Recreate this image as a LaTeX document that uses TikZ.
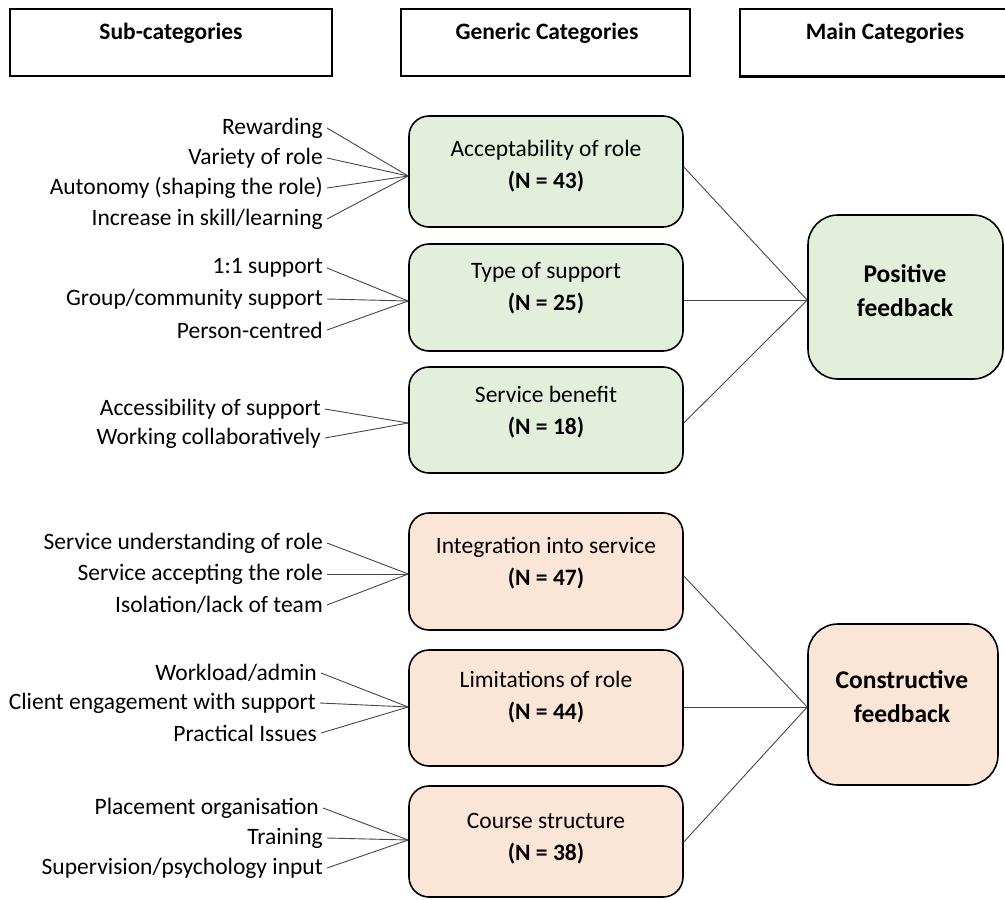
\documentclass[tikz,border=0pt]{standalone}
\usepackage{fontspec}
\setmainfont{Carlito}
\usetikzlibrary{calc}
\definecolor{posfill}{RGB}{226,239,218}
\definecolor{negfill}{RGB}{251,229,214}
\definecolor{linkgray}{RGB}{70,70,70}
\begin{document}
\begin{tikzpicture}[x=1pt,y=-1pt,
  headbox/.style={draw, line width=2.6pt, minimum width=#1, minimum height=67, inner sep=0},
  headline/.style={draw, line width=2.6pt},
  headtext/.style={font=\fontsize{23.5}{28}\selectfont\bfseries, inner sep=0},
  catbox/.style={draw, line width=1.6pt, rounded corners=20, minimum width=274, inner sep=0},
  cattext/.style={font=\fontsize{23.5}{32}\selectfont, align=center, inner sep=0},
  mainbox/.style={draw, line width=1.6pt, rounded corners=30, inner sep=0},
  maintext/.style={font=\fontsize{25.5}{34}\selectfont\bfseries, align=center, inner sep=0},
  sub/.style={font=\fontsize{23.5}{28}\selectfont, anchor=east, inner sep=4},
  link/.style={draw=linkgray, line width=0.9pt}]
\useasboundingbox (0,0) rectangle (1005,900);

% column headers
\node[headbox=322] (h1) at (171,42.5) {};
\node[headtext] (h1t) at (171,33) {Sub-categories};
\node[headbox=289] (h2) at (545.5,42.5) {};
\node[headtext] (h2t) at (547,33) {Generic Categories};
\node[minimum width=290, minimum height=67, inner sep=0] (h3) at (885,42.5) {};
\draw[headline] ($(h3.north west)+(266,0)$) -- (h3.north west) -- (h3.south west) -- ($(h3.south west)+(266,0)$);
\node[headtext] (h3t) at (885,33) {Main Categories};

% generic categories: positive
\node[catbox, fill=posfill, minimum height=111] (g1) at (546,171.5) {};
\node[cattext] (g1t) at ($(g1.north)+(0,50.5)$) {Acceptability of role\\\textbf{(N = 43)}};
\node[catbox, fill=posfill, minimum height=107] (g2) at (546,297.5) {};
\node[cattext] (g2t) at ($(g2.north)+(0,45.5)$) {Type of support\\\textbf{(N = 25)}};
\node[catbox, fill=posfill, minimum height=106] (g3) at (546,420) {};
\node[cattext] (g3t) at ($(g3.north)+(0,46)$) {Service benefit\\\textbf{(N = 18)}};

% generic categories: constructive
\node[catbox, fill=negfill, minimum height=117] (g4) at (546,571.5) {};
\node[cattext] (g4t) at ($(g4.north)+(0,51)$) {Integration into service\\\textbf{(N = 47)}};
\node[catbox, fill=negfill, minimum height=116] (g5) at (546,708) {};
\node[cattext] (g5t) at ($(g5.north)+(0,48)$) {Limitations of role\\\textbf{(N = 44)}};
\node[catbox, fill=negfill, minimum height=111] (g6) at (546,841.5) {};
\node[cattext] (g6t) at ($(g6.north)+(0,53)$) {Course structure\\\textbf{(N = 38)}};

% main categories
\node[mainbox, fill=posfill, minimum width=195, minimum height=164] (mp) at (905.5,297) {};
\node[maintext] (mpt) at (905,291) {Positive\\feedback};
\node[mainbox, fill=negfill, minimum width=190, minimum height=161] (mc) at (903,704.5) {};
\node[maintext] (mct) at (902,697) {Constructive\\feedback};

% sub-categories
\node[sub] (s11) at (327,128) {Rewarding};
\node[sub] (s12) at (327,158) {Variety of role};
\node[sub] (s13) at (327,188) {Autonomy (shaping the role)};
\node[sub] (s14) at (327,219) {Increase in skill/learning};

\node[sub] (s21) at (327,268) {1:1 support};
\node[sub] (s22) at (327,299) {Group/community support};
\node[sub] (s23) at (327,330) {Person-centred};

\node[sub] (s31) at (325,409) {Accessibility of support};
\node[sub] (s32) at (325,438) {Working collaboratively};

\node[sub] (s41) at (327,543) {Service understanding of role};
\node[sub] (s42) at (327,574) {Service accepting the role};
\node[sub] (s43) at (327,605) {Isolation/lack of team};

\node[sub] (s51) at (321,673) {Workload/admin};
\node[sub] (s52) at (320,703) {Client engagement with support};
\node[sub] (s53) at (321,733) {Practical Issues};

\node[sub] (s61) at (323,808) {Placement organisation};
\node[sub] (s62) at (327,838) {Training};
\node[sub] (s63) at (327,868) {Supervision/psychology input};

% meeting points on the box edges
\coordinate (g1in) at ($(g1.west)+(0,4.5)$);
\coordinate (g2in) at ($(g2.west)+(0,3.5)$);
\coordinate (g3in) at ($(g3.west)+(0,3)$);
\coordinate (g4in) at ($(g4.west)+(0,2.5)$);
\coordinate (g5in) at ($(g5.west)+(0,-1)$);
\coordinate (g6in) at ($(g6.west)+(0,-1.5)$);
\coordinate (g1out) at ($(g1.east)+(0,-4.5)$);
\coordinate (g2out) at ($(g2.east)+(0,2.5)$);
\coordinate (g3out) at ($(g3.east)+(0,3)$);
\coordinate (g4out) at ($(g4.east)+(0,4.5)$);
\coordinate (g5out) at ($(g5.east)+(0,-1)$);
\coordinate (g6out) at ($(g6.east)+(0,0.5)$);
\coordinate (mpin) at ($(mp.west)+(0,3)$);
\coordinate (mcin) at ($(mc.west)+(0,2.5)$);

% connectors: sub-categories to generic categories
\foreach \s in {s11,s12,s13,s14} \draw[link] (\s.east) -- (g1in);
\foreach \s in {s21,s22,s23} \draw[link] (\s.east) -- (g2in);
\foreach \s in {s31,s32} \draw[link] (\s.east) -- (g3in);
\foreach \s in {s41,s42,s43} \draw[link] (\s.east) -- (g4in);
\foreach \s in {s51,s52,s53} \draw[link] (\s.east) -- (g5in);
\foreach \s in {s61,s62,s63} \draw[link] (\s.east) -- (g6in);

% connectors: generic categories to main categories
\foreach \g in {g1out,g2out,g3out} \draw[link] (\g) -- (mpin);
\foreach \g in {g4out,g5out,g6out} \draw[link] (\g) -- (mcin);
\end{tikzpicture}
\end{document}
